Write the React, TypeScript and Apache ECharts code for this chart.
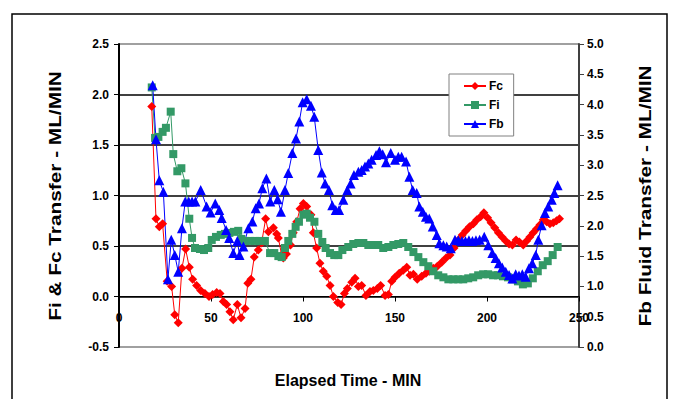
import React, { useEffect, useRef } from "react";
import * as echarts from "echarts";

const fcTime = [17.8,20.1,21.9,23.7,26.2,28.6,30.3,32.2,34.2,36.2,38.2,40.0,42.2,44.4,46.7,48.9,50.9,53.1,54.9,56.7,58.5,60.3,62.1,64.3,66.3,68.5,70.0,71.7,73.5,75.7,77.5,79.7,81.2,83.9,85.7,86.6,88.4,89.3,91.0,93.2,94.7,96.6,98.4,100.2,102.0,104.3,105.6,107.4,109.2,111.0,112.9,114.7,116.5,118.9,120.7,122.5,124.1,126.5,128.3,130.1,131.9,134.2,136.4,138.2,140.4,142.2,144.6,146.4,148.2,150.0,152.3,154.5,156.4,158.2,160.0,162.1,164.5,166.8,168.6,170.8,173.0,175.4,177.7,179.9,182.1,184.4,186.5,188.5,190.5,192.6,194.5,196.5,198.3,200.3,202.2,204.2,206.2,208.2,210.2,212.0,213.8,215.8,217.6,219.7,221.5,223.3,225.1,227.0,228.8,230.6,232.4,234.2,236.0,237.8,239.4];
const fcValues = [1.88,0.77,0.69,0.72,0.15,0.10,-0.18,-0.26,0.28,0.47,0.29,0.17,0.11,0.06,0.03,0.00,0.02,0.04,0.03,-0.05,-0.08,-0.15,-0.23,-0.08,-0.21,-0.12,0.13,0.17,0.39,0.46,0.53,0.77,0.64,0.68,0.62,0.58,0.41,0.38,0.42,0.51,0.63,0.74,0.87,0.92,0.89,0.81,0.63,0.48,0.33,0.25,0.20,0.11,0.00,-0.06,-0.08,0.03,0.08,0.14,0.18,0.10,0.11,0.01,0.05,0.06,0.08,0.11,0.01,0.02,0.15,0.19,0.23,0.26,0.29,0.21,0.22,0.17,0.20,0.23,0.25,0.28,0.30,0.34,0.38,0.41,0.48,0.56,0.61,0.65,0.69,0.72,0.76,0.79,0.83,0.78,0.73,0.68,0.63,0.59,0.55,0.52,0.51,0.56,0.54,0.51,0.55,0.59,0.63,0.67,0.71,0.76,0.74,0.72,0.73,0.75,0.77];

const fiTime = [17.8,19.6,21.4,23.7,25.5,28.1,29.5,31.7,33.9,36.1,38.2,39.7,41.3,44.0,46.2,48.5,50.4,52.7,55.3,57.6,60.0,62.5,64.8,66.5,68.5,71.2,73.9,76.6,79.3,82.1,84.4,86.6,88.4,90.2,92.0,94.2,96.0,97.8,100.2,102.0,103.8,106.2,108.3,110.5,112.3,114.7,117.0,119.2,121.4,124.6,127.3,130.1,132.8,135.5,138.2,140.9,143.6,146.4,149.1,151.8,154.5,157.2,160.0,162.7,165.4,168.1,170.8,173.5,176.3,179.0,181.7,184.4,187.1,189.8,192.5,195.2,197.9,200.6,203.3,206.0,208.7,211.4,214.1,216.8,219.5,222.2,224.9,227.6,230.3,233.0,235.7,238.4];
const fiValues = [2.07,1.57,1.58,1.63,1.67,1.83,1.41,1.24,1.27,1.12,0.77,0.58,0.48,0.47,0.46,0.48,0.56,0.59,0.61,0.62,0.63,0.64,0.65,0.57,0.55,0.55,0.55,0.55,0.55,0.43,0.43,0.40,0.39,0.48,0.55,0.62,0.69,0.74,0.81,0.82,0.78,0.74,0.62,0.54,0.48,0.43,0.41,0.41,0.46,0.49,0.52,0.53,0.53,0.51,0.51,0.51,0.48,0.49,0.51,0.52,0.53,0.49,0.44,0.39,0.34,0.30,0.25,0.21,0.19,0.17,0.17,0.17,0.17,0.18,0.19,0.21,0.22,0.22,0.21,0.21,0.20,0.19,0.17,0.15,0.12,0.13,0.18,0.25,0.31,0.35,0.41,0.49];

const fbTime = [18.3,20.1,21.9,24.1,26.6,28.4,30.3,32.2,34.2,36.0,37.9,39.7,41.5,44.4,47.6,49.8,52.3,54.5,55.8,58.2,59.9,62.1,64.3,65.5,67.6,70.3,72.5,74.3,76.1,77.9,80.1,82.2,84.4,86.2,88.0,90.2,92.0,94.2,96.2,98.0,99.8,102.0,104.3,106.1,108.3,110.2,112.0,114.1,115.9,117.8,119.6,121.9,124.1,125.9,127.7,130.1,131.9,133.7,135.5,137.3,139.7,141.5,143.3,145.1,147.7,150.0,151.8,153.6,156.0,157.8,159.6,161.8,163.2,165.1,166.8,168.6,170.5,172.7,174.1,176.3,178.1,180.3,182.6,184.4,186.4,188.3,190.2,192.1,194.0,196.0,198.5,200.7,202.9,204.7,206.5,208.3,210.2,212.0,213.8,215.6,217.4,219.2,221.0,222.8,224.6,226.5,227.9,229.7,231.5,233.3,235.2,236.6,238.4];
const fbValues = [4.32,3.43,2.75,2.56,1.12,1.77,1.52,1.24,1.96,2.40,2.40,2.40,2.40,2.59,2.32,2.22,2.37,2.26,2.13,1.93,1.80,1.55,1.75,1.52,1.66,1.96,2.07,2.29,2.37,2.62,2.78,2.40,2.59,2.44,2.23,2.59,2.87,3.20,3.44,3.72,4.04,4.09,3.98,3.80,3.25,2.88,2.70,2.59,2.34,2.26,2.26,2.43,2.59,2.70,2.84,2.89,2.92,2.98,3.03,3.09,3.17,3.23,3.18,3.05,3.20,3.09,3.14,3.14,3.06,2.81,2.59,2.54,2.32,2.23,2.15,2.12,1.99,1.85,1.71,1.68,1.66,1.63,1.77,1.76,1.75,1.75,1.76,1.75,1.76,1.77,1.82,1.68,1.55,1.47,1.38,1.31,1.24,1.19,1.13,1.20,1.18,1.20,1.16,1.30,1.38,1.52,1.77,2.01,2.21,2.32,2.43,2.54,2.67];

const seriesNames = ["Fc", "Fi", "Fb"];
const xTitle = "Elapsed Time - MIN";
const leftTitle = "Fi & Fc Transfer - ML/MIN";
const rightTitle = "Fb Fluid Transfer - ML/MIN";

const pairs = (t: number[], v: number[]) => t.map((x, i) => [x, v[i]]);

const FONT = "'Liberation Sans', Arial, sans-serif";

export default function App() {
  const ref = useRef<HTMLDivElement>(null);
  useEffect(() => {
    if (!ref.current) return;
    const chart = echarts.init(ref.current, null, { renderer: "svg" });
    const labelStyle = { fontFamily: FONT, fontWeight: "bold" as const, fontSize: 12, color: "#000" };
    chart.setOption({
      animation: false,
      backgroundColor: "#fff",
      grid: { left: 119, right: 95, top: 44, bottom: 52, containLabel: false },
      legend: {
        data: seriesNames,
        orient: "vertical",
        left: 449,
        top: 74,
        width: 66,
        padding: [6, 10, 6, 14],
        itemGap: 7,
        itemWidth: 22,
        itemHeight: 10,
        borderColor: "#808080",
        borderWidth: 1,
        backgroundColor: "#fff",
        textStyle: { ...labelStyle, fontSize: 12, padding: [0, 0, 0, -2] },
      },
      xAxis: {
        type: "value",
        min: 0,
        max: 250,
        interval: 50,
        position: "bottom",
        offset: -50.5,
        axisLine: { show: true, onZero: false, lineStyle: { color: "#000", width: 1 } },
        axisTick: { show: true, inside: false, length: 5, lineStyle: { color: "#000" } },
        axisLabel: { ...labelStyle, margin: 15 },
        splitLine: { show: false },
      },
      yAxis: [
        {
          type: "value",
          min: -0.5,
          max: 2.5,
          interval: 0.5,
          axisLine: { show: true, onZero: false, lineStyle: { color: "#000", width: 2 } },
          axisTick: { show: true, length: 5, lineStyle: { color: "#000" } },
          axisLabel: { ...labelStyle, margin: 10, formatter: (v: number) => v.toFixed(1) },
          splitLine: {
            show: true,
            lineStyle: { color: ["#808080", "#000", "#000", "#000", "#000", "#000", "#808080"], width: 1.5 },
          },
        },
        {
          type: "value",
          min: 0,
          max: 5,
          interval: 0.5,
          position: "right",
          axisLine: { show: true, onZero: false, lineStyle: { color: "#404040", width: 2 } },
          axisTick: { show: true, length: 5, lineStyle: { color: "#404040" } },
          axisLabel: { ...labelStyle, margin: 8, formatter: (v: number) => v.toFixed(1) },
          splitLine: { show: false },
        },
      ],
      series: [
        {
          name: "Fc",
          type: "line",
          data: pairs(fcTime, fcValues),
          symbol: "diamond",
          symbolSize: 9,
          itemStyle: { color: "#FF0000" },
          lineStyle: { color: "#FF0000", width: 1 },
        },
        {
          name: "Fi",
          type: "line",
          data: pairs(fiTime, fiValues),
          symbol: "rect",
          symbolSize: 8,
          itemStyle: { color: "#339966" },
          lineStyle: { color: "#339966", width: 1 },
        },
        {
          name: "Fb",
          type: "line",
          yAxisIndex: 1,
          data: pairs(fbTime, fbValues),
          symbol: "triangle",
          symbolSize: 10,
          itemStyle: { color: "#0000FF" },
          lineStyle: { color: "#0000FF", width: 1 },
        },
      ],
      graphic: [
        {
          type: "rect",
          shape: { x: 12, y: 14, width: 655, height: 420 },
          style: { fill: "none", stroke: "#000", lineWidth: 1.5 },
          silent: true,
        },
        {
          type: "text",
          x: 348,
          y: 380,
          style: { text: xTitle, font: `bold 16px ${FONT}`, fill: "#000", align: "center", verticalAlign: "middle" },
        },
        {
          type: "text",
          x: 55,
          y: 196,
          rotation: Math.PI / 2,
          scaleX: 1.3,
          style: { text: leftTitle, font: `bold 16px ${FONT}`, fill: "#000", align: "center", verticalAlign: "middle" },
        },
        {
          type: "text",
          x: 645,
          y: 196,
          rotation: Math.PI / 2,
          scaleX: 1.3,
          style: { text: rightTitle, font: `bold 16px ${FONT}`, fill: "#000", align: "center", verticalAlign: "middle" },
        },
      ],
    });
    return () => chart.dispose();
  }, []);
  return <div ref={ref} style={{ width: 674, height: 399, position: "absolute", left: 0, top: 0 }} />;
}
